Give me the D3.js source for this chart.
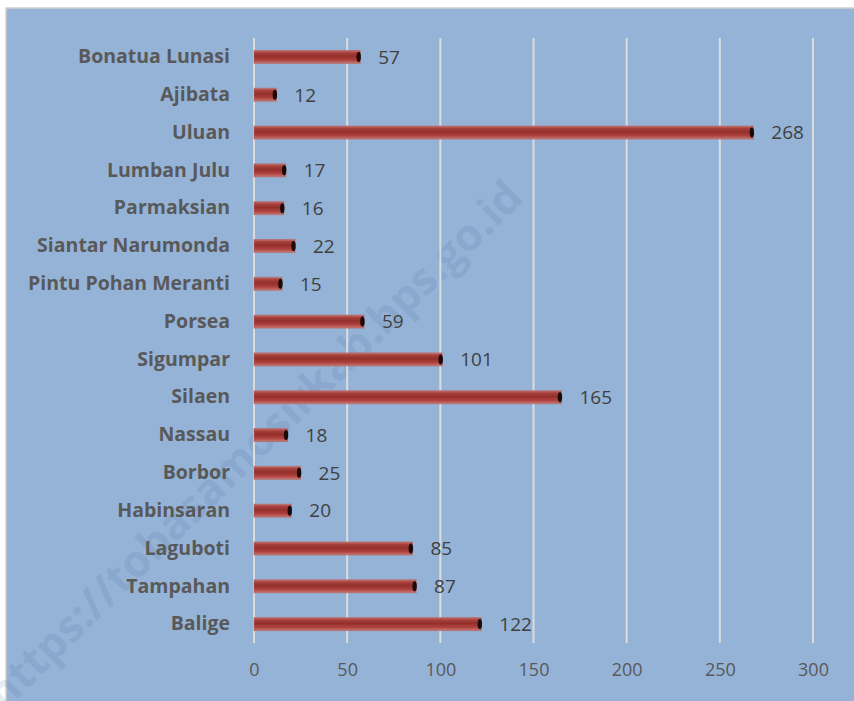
<!DOCTYPE html>
<html>
<head>
<meta charset="utf-8">
<script src="https://cdn.jsdelivr.net/npm/d3@7"></script>
<style>
  body { margin: 0; background: #fff; }
  .chart { width: 854px; height: 701px; }
  text { font-family: "Open Sans", Lato, sans-serif; }
</style>
</head>
<body>
<div class="chart"></div>
<script>
/* chart data, top to bottom as drawn */
var kecamatan = ["Bonatua Lunasi", "Ajibata", "Uluan", "Lumban Julu", "Parmaksian",
    "Siantar Narumonda", "Pintu Pohan Meranti", "Porsea", "Sigumpar", "Silaen",
    "Nassau", "Borbor", "Habinsaran", "Laguboti", "Tampahan", "Balige"];
var jumlah = [57, 12, 268, 17, 16, 22, 15, 59, 101, 165, 18, 25, 20, 85, 87, 122];
var xTicks = [0, 50, 100, 150, 200, 250, 300];

var width = 854, height = 701;
var margin = { top: 38, right: 41, bottom: 58, left: 254 };

var svg = d3.select(".chart").append("svg")
    .attr("width", width)
    .attr("height", height);

// bar gradient (cylinder look)
var defs = svg.append("defs");
var grad = defs.append("linearGradient")
    .attr("id", "barGrad")
    .attr("x1", 0).attr("y1", 0).attr("x2", 0).attr("y2", 1);
grad.append("stop").attr("offset", "0%").attr("stop-color", "#c27470");
grad.append("stop").attr("offset", "18%").attr("stop-color", "#a8403c");
grad.append("stop").attr("offset", "45%").attr("stop-color", "#93302c");
grad.append("stop").attr("offset", "75%").attr("stop-color", "#b0423e");
grad.append("stop").attr("offset", "100%").attr("stop-color", "#c47c78");

// background panel
svg.append("rect")
    .attr("x", 6).attr("y", 8)
    .attr("width", width).attr("height", height)
    .attr("fill", "#95b3d7")
    .attr("stroke", "#d0d0d0")
    .attr("stroke-width", 1.5);

// watermark
svg.append("text")
    .attr("transform", "translate(4,712) rotate(-44.5)")
    .attr("font-size", 44)
    .attr("font-weight", "bold")
    .attr("fill", "#3d5f8c")
    .attr("fill-opacity", 0.15)
    .text("https://tobasamosirkab.bps.go.id");

var xScale = d3.scaleLinear()
    .domain([0, 300])
    .range([margin.left, width - margin.right]);

var yScale = d3.scaleBand()
    .domain(kecamatan)
    .range([margin.top, height - margin.bottom]);

// gridlines
svg.append("g")
    .selectAll("line")
    .data(xTicks)
    .enter().append("line")
    .attr("x1", function(d) { return xScale(d); })
    .attr("x2", function(d) { return xScale(d); })
    .attr("y1", margin.top)
    .attr("y2", height - margin.bottom)
    .attr("stroke", "#dcdcdc")
    .attr("stroke-width", 2);

// x axis labels
var xAxis = svg.append("g")
    .attr("transform", "translate(0," + (height - margin.bottom) + ")")
    .call(d3.axisBottom(xScale).tickValues(xTicks).tickSize(0).tickPadding(20));
xAxis.select(".domain").remove();
xAxis.selectAll("text")
    .attr("font-family", "'Open Sans', sans-serif")
    .attr("font-size", 18)
    .attr("fill", "#595959");

// y axis labels
var yAxis = svg.append("g")
    .attr("transform", "translate(" + (margin.left - 24) + ",0)")
    .call(d3.axisLeft(yScale).tickSize(0).tickPadding(0));
yAxis.select(".domain").remove();
yAxis.selectAll("text")
    .attr("font-family", "'Open Sans', sans-serif")
    .attr("font-size", 19.5)
    .attr("font-weight", "bold")
    .attr("fill", "#595959");

var barH = 13;

// bars
var bars = svg.append("g")
    .selectAll("g")
    .data(jumlah)
    .enter().append("g");

bars.append("rect")
    .attr("x", xScale(0))
    .attr("y", function(d, i) { return yScale(kecamatan[i]) + yScale.bandwidth() / 2 - barH / 2; })
    .attr("width", function(d) { return xScale(d) - xScale(0); })
    .attr("height", barH)
    .attr("fill", "url(#barGrad)")
    .attr("stroke", "#b5605c")
    .attr("stroke-opacity", 0.6)
    .attr("stroke-width", 1);

// dark end cap
bars.append("ellipse")
    .attr("cx", function(d) { return xScale(d) - 1.5; })
    .attr("cy", function(d, i) { return yScale(kecamatan[i]) + yScale.bandwidth() / 2; })
    .attr("rx", 2.2)
    .attr("ry", barH / 2 - 1.5)
    .attr("fill", "#1a0a0a");

// value labels
bars.append("text")
    .attr("x", function(d) { return xScale(d) + 18; })
    .attr("y", function(d, i) { return yScale(kecamatan[i]) + yScale.bandwidth() / 2; })
    .attr("dy", "0.36em")
    .attr("font-size", 19)
    .attr("fill", "#404040")
    .text(function(d) { return d; });
</script>
</body>
</html>
